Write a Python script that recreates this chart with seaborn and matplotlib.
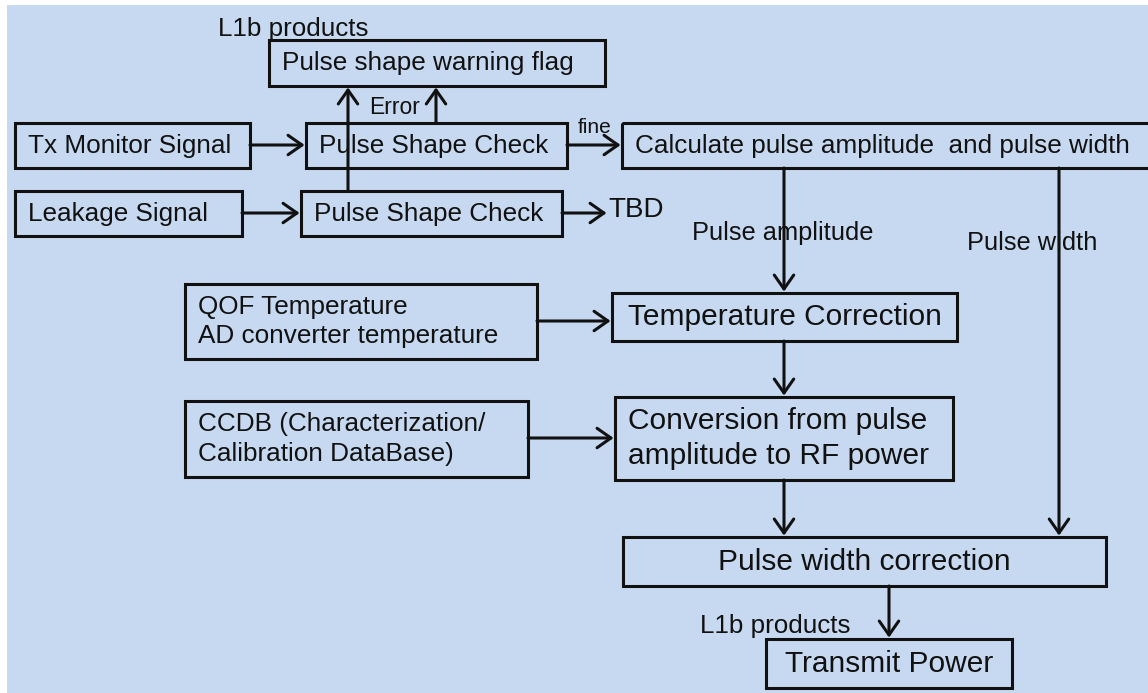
import matplotlib
matplotlib.use("Agg")
import matplotlib.pyplot as plt
import seaborn as sns
from matplotlib.patches import Rectangle, FancyArrowPatch

# Box labels
box_labels = [
    "Pulse shape warning flag",
    "Tx Monitor Signal",
    "Leakage Signal",
    "Pulse Shape Check",
    "Pulse Shape Check",
    "Calculate pulse amplitude  and pulse width",
    "QOF Temperature\nAD converter temperature",
    "Temperature Correction",
    "CCDB (Characterization/\nCalibration DataBase)",
    "Conversion from pulse\namplitude to RF power",
    "Pulse width correction",
    "Transmit Power",
]
# box extents in pixels: left, top, right, bottom
box_left = [269, 15, 15, 306, 301, 622, 185, 612, 185, 615, 623, 766]
box_top = [40, 123, 191, 123, 191, 123, 284, 293, 401, 397, 537, 639]
box_right = [605, 250, 242, 567, 562, 1152, 537, 957, 528, 953, 1106, 1012]
box_bottom = [86, 168, 236, 168, 236, 168, 359, 341, 477, 480, 586, 688]
box_align = ["left", "left", "left", "left", "left", "left", "left", "center", "left", "left", "center", "center"]
box_fsize = [18.8, 18.8, 18.8, 18.8, 18.8, 18.8, 18.8, 21.5, 18.8, 21.5, 21.5, 21.5]

# arrows: x0, y0, x1, y1
arrow_x0 = [250, 242, 348, 436, 567, 562, 784, 1059, 537, 784, 528, 784, 889]
arrow_y0 = [145, 213, 191, 123, 145, 213, 168, 168, 321, 341, 438, 480, 586]
arrow_x1 = [306, 301, 348, 436, 622, 608, 784, 1059, 612, 784, 615, 784, 889]
arrow_y1 = [145, 213, 86, 86, 145, 213, 293, 537, 321, 397, 438, 537, 639]

# free labels (left x, baseline y)
note_text = ["L1b products", "Error", "fine", "TBD", "Pulse amplitude", "Pulse width", "L1b products"]
note_x = [218, 369, 578, 608, 692, 967, 700]
note_y = [36, 114, 133, 217, 240, 250, 633]
note_size = [18.7, 16.5, 15, 20, 18.3, 18.3, 18.7]

sns.set_theme(style="white")
plt.rcParams["font.family"] = ["Liberation Sans", "DejaVu Sans"]

W, H = 1148, 693
fig = plt.figure(figsize=(W / 100, H / 100), dpi=100)
ax = fig.add_axes([0, 0, 1, 1])
ax.set_xlim(0, W)
ax.set_ylim(H, 0)
ax.axis("off")

bg = "#c6d9f0"
ink = "#111111"
ax.add_patch(Rectangle((7, 5), W - 7, H - 5, facecolor=bg, edgecolor="none", zorder=0))

for lab, l, t, r, b, al, fs in zip(box_labels, box_left, box_top, box_right, box_bottom, box_align, box_fsize):
    ax.add_patch(Rectangle((l, t), r - l, b - t, facecolor="none", edgecolor=ink, lw=2.2, zorder=2))
    cy = (t + b) / 2
    if al == "center":
        ax.text((l + r) / 2, cy, lab, ha="center", va="center", fontsize=fs, color=ink,
                linespacing=1.3, zorder=3)
    else:
        ax.text(l + 13, cy, lab, ha="left", va="center", fontsize=fs, color=ink,
                linespacing=1.3, zorder=3)

for x0, y0, x1, y1 in zip(arrow_x0, arrow_y0, arrow_x1, arrow_y1):
    ar = FancyArrowPatch((x0, y0), (x1, y1), arrowstyle="->,head_length=5,head_width=3.5",
                         mutation_scale=2, lw=2.2, color=ink, shrinkA=0, shrinkB=1, zorder=4)
    ax.add_patch(ar)

for s, x, y, fs in zip(note_text, note_x, note_y, note_size):
    ax.text(x, y, s, ha="left", va="baseline", fontsize=fs, color=ink, zorder=3)

fig.savefig("out.png", dpi=100, facecolor="white")
